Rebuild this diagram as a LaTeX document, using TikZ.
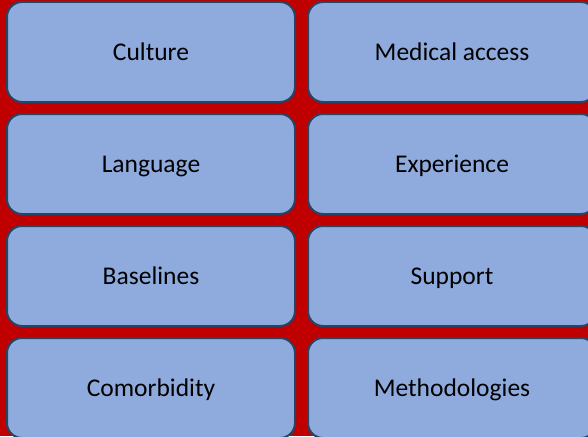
\documentclass[tikz,border=0pt]{standalone}
\usepackage{fontspec}
\setmainfont{Carlito}
\definecolor{bgred}{RGB}{192,0,0}
\definecolor{boxfill}{RGB}{143,170,220}
\definecolor{boxline}{RGB}{38,68,100}
\begin{document}
\begin{tikzpicture}[x=1pt,y=-1pt,every node/.style={draw=boxline,fill=boxfill,line width=2pt,rounded corners=15pt,minimum width=288pt,minimum height=100pt,inner sep=0pt,text height=16pt,text depth=0pt,font=\fontsize{25.5}{30}\selectfont}]
	
	\useasboundingbox (0,0) rectangle (588,436);
	\clip (0,0) rectangle (588,436);
	\fill[bgred] (0,0) rectangle (588,436);
	
	\node (culture) at (151,52) {Culture};
	\node (language) at (151,164) {Language};
	\node (baselines) at (151,276) {Baselines};
	\node (comorbidity) at (151,388) {Comorbidity};
	
	\node (medical) at (452,52) {Medical access};
	\node (experience) at (452,164) {Experience};
	\node (support) at (452,276) {Support};
	\node (methods) at (452,388) {Methodologies};

\end{tikzpicture}
\end{document}
